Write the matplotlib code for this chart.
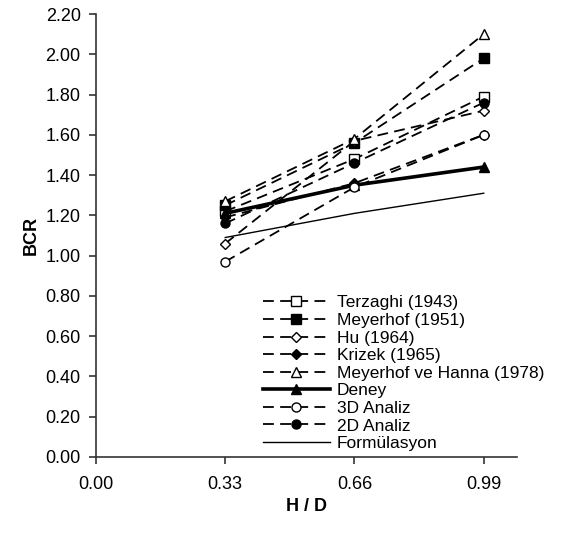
import matplotlib.pyplot as plt

plt.rcParams['font.family'] = ['Liberation Sans', 'DejaVu Sans']

hd = [0.33, 0.66, 0.99]

# BCR values
terzaghi = [1.22, 1.48, 1.79]
meyerhof = [1.25, 1.56, 1.98]
hu = [1.06, 1.57, 1.72]
krizek = [1.19, 1.36, 1.60]
meyerhof_hanna = [1.27, 1.58, 2.10]
deney = [1.21, 1.35, 1.44]
analiz_3d = [0.97, 1.34, 1.60]
analiz_2d = [1.16, 1.46, 1.76]
formulasyon = [1.09, 1.21, 1.31]

x_ticks = [0.00, 0.33, 0.66, 0.99]
y_ticks = [0.0, 0.2, 0.4, 0.6, 0.8, 1.0, 1.2, 1.4, 1.6, 1.8, 2.0, 2.2]

fig = plt.figure(figsize=(5.69, 5.33), dpi=100)
ax = fig.add_axes([0.1687, 0.1426, 0.7399, 0.8311])

dash = (0, (6, 3.5))
lw = 1.3
ms = 6.5

ax.plot(hd, terzaghi, linestyle=dash, color='black', lw=lw, marker='s', ms=ms,
        mfc='white', mec='black', label='Terzaghi (1943)')
ax.plot(hd, meyerhof, linestyle=dash, color='black', lw=lw, marker='s', ms=ms,
        mfc='black', mec='black', label='Meyerhof (1951)')
ax.plot(hd, hu, linestyle=dash, color='black', lw=lw, marker='D', ms=ms - 1,
        mfc='white', mec='black', label='Hu (1964)')
ax.plot(hd, krizek, linestyle=dash, color='black', lw=lw, marker='D', ms=ms - 1,
        mfc='black', mec='black', label='Krizek (1965)')
ax.plot(hd, meyerhof_hanna, linestyle=dash, color='black', lw=lw, marker='^', ms=ms + 1,
        mfc='white', mec='black', label='Meyerhof ve Hanna (1978)')
ax.plot(hd, deney, linestyle='-', color='black', lw=2.6, marker='^', ms=ms + 1,
        mfc='black', mec='black', label='Deney')
ax.plot(hd, analiz_3d, linestyle=dash, color='black', lw=lw, marker='o', ms=ms,
        mfc='white', mec='black', label='3D Analiz')
ax.plot(hd, analiz_2d, linestyle=dash, color='black', lw=lw, marker='o', ms=ms,
        mfc='black', mec='black', label='2D Analiz')
ax.plot(hd, formulasyon, linestyle='-', color='black', lw=1.0, label='Formülasyon')

ax.set_xlim(0, 1.075)
ax.set_ylim(0, 2.2)
ax.set_xticks(x_ticks)
ax.set_xticklabels([f'{v:.2f}' for v in x_ticks])
ax.set_yticks(y_ticks)
ax.set_yticklabels([f'{v:.2f}' for v in y_ticks])

for side in ['top', 'right']:
    ax.spines[side].set_visible(False)
for side in ['left', 'bottom']:
    ax.spines[side].set_color('#333333')
    ax.spines[side].set_linewidth(1.2)
ax.tick_params(direction='out', length=5, width=1.2, color='#333333',
               labelsize=13, pad=6)
ax.tick_params(axis='x', pad=9)

ax.set_xlabel('H / D', fontsize=13, fontweight='bold', labelpad=3.5)
ax.set_ylabel('BCR', fontsize=13, fontweight='bold', labelpad=4)

ax.legend(loc='upper left', bbox_to_anchor=(0.462, 0.446), bbox_transform=fig.transFigure,
          frameon=False, fontsize=12.5, handlelength=3.85, handletextpad=0.4,
          labelspacing=0.14, borderaxespad=0, borderpad=0)

plt.savefig('out.png', dpi=100)
